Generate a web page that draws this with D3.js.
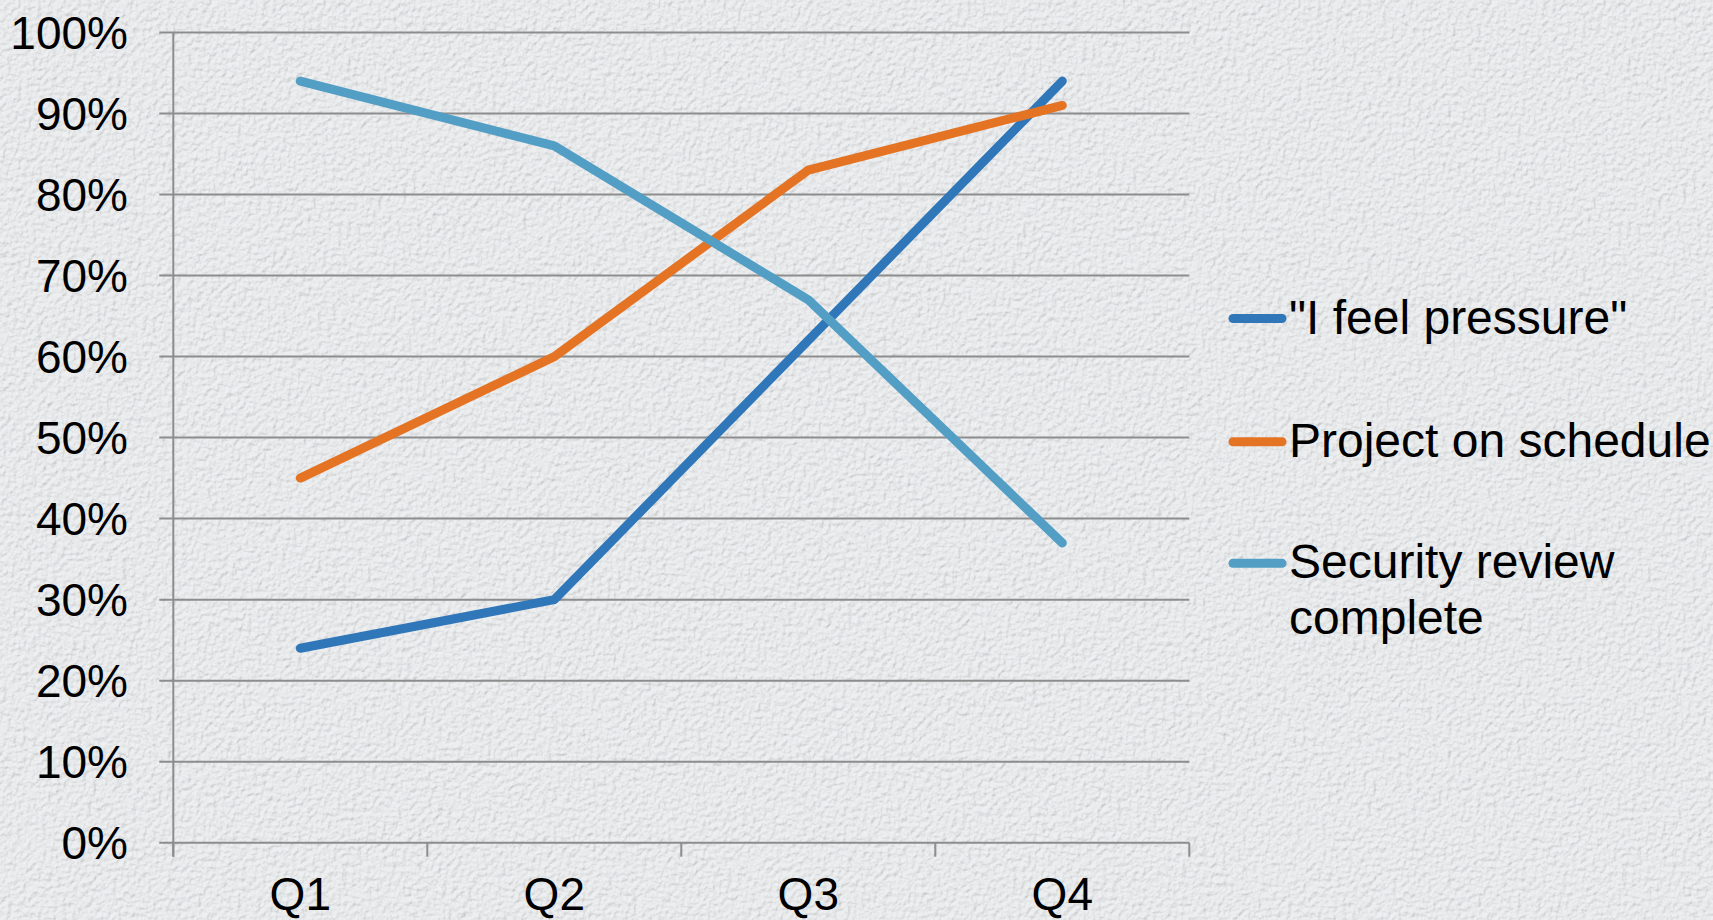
<!DOCTYPE html>
<html><head><meta charset="utf-8">
<script src="https://cdn.jsdelivr.net/npm/d3@7"></script>
<style>html,body{margin:0;padding:0;overflow:hidden;background:#e6e8ea}</style>
</head><body>
<svg id="c" width="1713" height="920"></svg>
<script>
const categories = ["Q1","Q2","Q3","Q4"];
const seriesNames = ["\"I feel pressure\"", "Project on schedule", "Security review complete"];
const pressure = [24, 30, 62, 94];
const onSchedule = [45, 60, 83, 91];
const securityReview = [94, 86, 67, 37];
const yTicks = [0,10,20,30,40,50,60,70,80,90,100];
const colors = ["#2f77b9", "#e47424", "#539ec4"];

const svg = d3.select("#c");
const defs = svg.append("defs");
const f = defs.append("filter").attr("id","tex").attr("x",0).attr("y",0).attr("width","100%").attr("height","100%");
f.append("feTurbulence").attr("type","fractalNoise").attr("baseFrequency","0.2").attr("numOctaves",3).attr("seed",4).attr("result","n");
f.append("feDiffuseLighting").attr("in","n").attr("surfaceScale",1.4).attr("diffuseConstant",1.07)
  .attr("lighting-color","#e7e9eb").attr("result","l")
  .append("feDistantLight").attr("azimuth",235).attr("elevation",70);
f.append("feComposite").attr("in","l").attr("in2","SourceGraphic").attr("operator","in");
svg.append("rect").attr("width",1713).attr("height",920).attr("fill","#e6e8ea");
svg.append("rect").attr("width",1713).attr("height",920).attr("fill","#e6e8ea").attr("filter","url(#tex)");

const x0 = 173.3, x1 = 1189.3, yTop = 32.5, yBot = 842.7;
const xb = d3.scaleBand().domain(categories).range([x0,x1]).padding(0);
const y = d3.scaleLinear().domain([0,100]).range([yBot,yTop]);
const font = "'Liberation Sans', Arial, sans-serif";
const grid = "#8d8d8d";

// gridlines
svg.append("g").selectAll("line").data(yTicks).join("line")
  .attr("x1", x0-14).attr("x2", x1).attr("y1", d=>y(d)).attr("y2", d=>y(d))
  .attr("stroke", grid).attr("stroke-width", 2);
// y axis
svg.append("line").attr("x1",x0).attr("x2",x0).attr("y1",yTop).attr("y2",yBot+14).attr("stroke",grid).attr("stroke-width",2);
// x ticks
const bounds = categories.map(c=>xb(c)).concat([x1]);
svg.append("g").selectAll("line").data(bounds).join("line")
  .attr("x1",d=>d).attr("x2",d=>d).attr("y1",yBot).attr("y2",yBot+14).attr("stroke",grid).attr("stroke-width",2);

// y labels
svg.append("g").selectAll("text").data(yTicks).join("text")
  .attr("x",128).attr("y",d=>y(d)+16).attr("text-anchor","end")
  .attr("font-family",font).attr("font-size",46).attr("fill","#000")
  .text(d=>d+"%");
// x labels
svg.append("g").selectAll("text").data(categories).join("text")
  .attr("x",d=>xb(d)+xb.bandwidth()/2).attr("y",910).attr("text-anchor","middle")
  .attr("font-family",font).attr("font-size",46).attr("fill","#000")
  .text(d=>d);

const series = [pressure, onSchedule, securityReview];
const line = d3.line().x((d,i)=>xb(categories[i])+xb.bandwidth()/2).y(d=>y(d));
series.forEach((s,k)=>{
  svg.append("path").attr("d", line(s)).attr("fill","none").attr("stroke",colors[k])
    .attr("stroke-width",9).attr("stroke-linecap","round").attr("stroke-linejoin","round");
});

// legend
const lg = svg.append("g");
const legendRows = [
  {ly:318.5, lines:[seriesNames[0]], base:[333.5]},
  {ly:441.7, lines:[seriesNames[1]], base:[457]},
  {ly:563.3, lines:["Security review","complete"], base:[577.5,634]}
];
legendRows.forEach((r,k)=>{
  lg.append("line").attr("x1",1233).attr("x2",1282).attr("y1",r.ly).attr("y2",r.ly)
    .attr("stroke",colors[k]).attr("stroke-width",9).attr("stroke-linecap","round");
  r.lines.forEach((t,j)=>{
    lg.append("text").attr("x",1289).attr("y",r.base[j]).attr("font-family",font)
      .attr("font-size",48).attr("fill","#000").text(t);
  });
});
</script>
</body></html>
